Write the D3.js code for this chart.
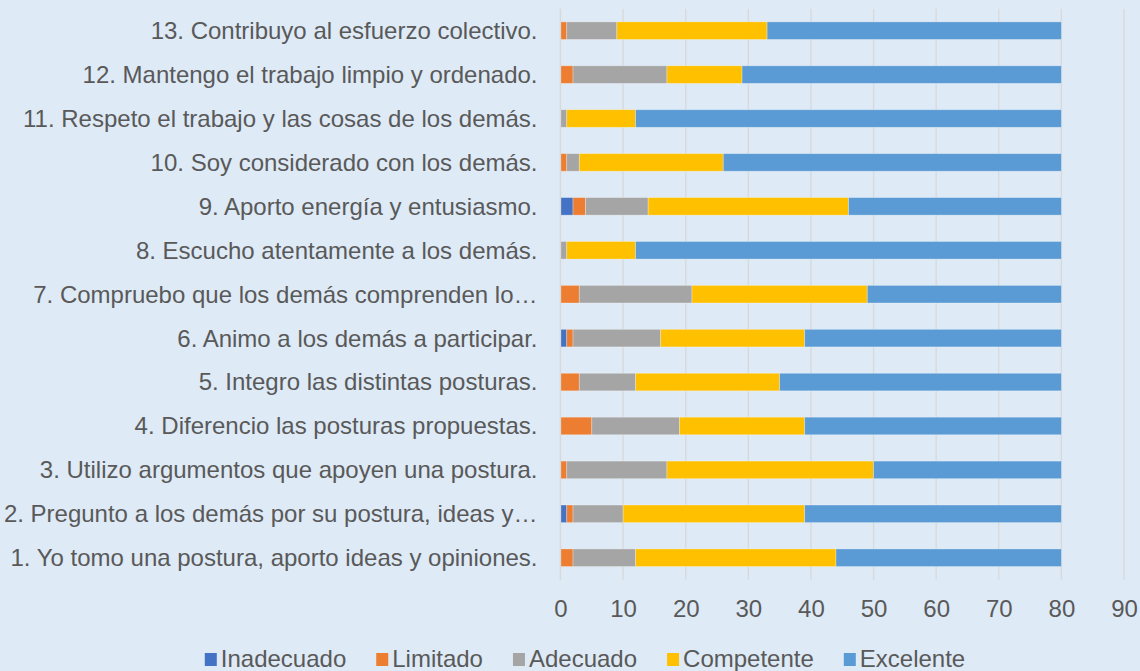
<!DOCTYPE html>
<html>
<head>
<meta charset="utf-8">
<script src="https://cdn.jsdelivr.net/npm/d3@7"></script>
<style>
  body { margin: 0; background: #deeaf6; }
  svg { display: block; font-family: "Liberation Sans", Arial, sans-serif; }
</style>
</head>
<body>
<svg id="chart" width="1140" height="671"></svg>
<script>
// categories, bottom to top as in the picture
var categories = [
  '1. Yo tomo una postura, aporto ideas y opiniones.',
  '2. Pregunto a los demás por su postura, ideas y…',
  '3. Utilizo argumentos que apoyen una postura.',
  '4. Diferencio las posturas propuestas.',
  '5. Integro las distintas posturas.',
  '6. Animo a los demás a participar.',
  '7. Compruebo que los demás comprenden lo…',
  '8. Escucho atentamente a los demás.',
  '9. Aporto energía y entusiasmo.',
  '10. Soy considerado con los demás.',
  '11. Respeto el trabajo y las cosas de los demás.',
  '12. Mantengo el trabajo limpio y ordenado.',
  '13. Contribuyo al esfuerzo colectivo.'
];
var seriesNames = ['Inadecuado', 'Limitado', 'Adecuado', 'Competente', 'Excelente'];
var inadecuado = [0, 1, 0, 0, 0, 1, 0, 0, 2, 0, 0, 0, 0];
var limitado   = [2, 1, 1, 5, 3, 1, 3, 0, 2, 1, 0, 2, 1];
var adecuado   = [10, 8, 16, 14, 9, 14, 18, 1, 10, 2, 1, 15, 8];
var competente = [32, 29, 33, 20, 23, 23, 28, 11, 32, 23, 11, 12, 24];
var excelente  = [36, 41, 30, 41, 45, 41, 31, 68, 34, 54, 68, 51, 47];
var xTicks = [0, 10, 20, 30, 40, 50, 60, 70, 80, 90];
var colors = ['#4472c4', '#ed7d31', '#a5a5a5', '#ffc000', '#5b9bd5'];

var svg = d3.select('#chart');
var pLeft = 560.5, pRight = 1124, pTop = 8.7, pBottom = 579.7;
var textColor = '#595959';
var font = '"Liberation Sans", Arial, sans-serif';

var rows = categories.map((c, i) => ({
  cat: c,
  Inadecuado: inadecuado[i], Limitado: limitado[i], Adecuado: adecuado[i],
  Competente: competente[i], Excelente: excelente[i]
}));

var x = d3.scaleLinear().domain([0, 90]).range([pLeft, pRight]);
var y = d3.scaleBand().domain(categories.slice().reverse()).range([pTop, pBottom])
  .paddingInner(0.6).paddingOuter(0.3);
var color = d3.scaleOrdinal().domain(seriesNames).range(colors);

// gridlines
svg.append('g').selectAll('line').data(xTicks).enter().append('line')
  .attr('x1', d => x(d)).attr('x2', d => x(d))
  .attr('y1', pTop).attr('y2', pBottom)
  .attr('stroke', '#d9d9d9').attr('stroke-width', 1.3);

var stacked = d3.stack().keys(seriesNames)(rows);

svg.append('g').selectAll('g').data(stacked).enter().append('g')
  .attr('fill', d => color(d.key))
  .selectAll('rect').data(d => d).enter().append('rect')
  .attr('x', d => x(d[0])).attr('width', d => x(d[1]) - x(d[0]))
  .attr('y', d => y(d.data.cat)).attr('height', y.bandwidth())
  .attr('stroke', 'rgba(255,255,255,0.35)').attr('stroke-width', 0.8);

// category axis line
svg.append('line').attr('x1', pLeft).attr('x2', pLeft).attr('y1', pTop).attr('y2', pBottom)
  .attr('stroke', '#d9d9d9').attr('stroke-width', 1.3);

// axes
var yAxis = svg.append('g').attr('transform', 'translate(' + (pLeft - 23) + ',0)')
  .call(d3.axisLeft(y).tickSize(0).tickPadding(0));
yAxis.select('.domain').remove();
yAxis.selectAll('text').attr('fill', textColor).attr('dy', '0.35em')
  .style('font-size', '24px').style('font-family', font);

var xAxis = svg.append('g').attr('transform', 'translate(0,' + pBottom + ')')
  .call(d3.axisBottom(x).tickValues(xTicks).tickSize(0).tickFormat(d3.format('d')));
xAxis.select('.domain').remove();
xAxis.selectAll('text').attr('fill', textColor).attr('y', 37).attr('dy', null)
  .style('font-size', '24px').style('font-family', font);

// legend
var legend = svg.append('g');
var items = legend.selectAll('g').data(seriesNames).enter().append('g');
items.append('rect').attr('width', 12).attr('height', 13).attr('y', 653)
  .attr('fill', d => color(d));
items.append('text').text(d => d).attr('x', 16).attr('y', 667)
  .attr('fill', textColor).style('font-size', '24px');
var widths = [], pos = 0, gap = 30;
items.each(function () { widths.push(this.getBBox().width); });
var total = d3.sum(widths) + gap * (widths.length - 1);
var start = 585 - total / 2;
items.attr('transform', (d, i) => {
  var t = 'translate(' + (start + pos) + ',0)';
  pos += widths[i] + gap;
  return t;
});
</script>
</body>
</html>
